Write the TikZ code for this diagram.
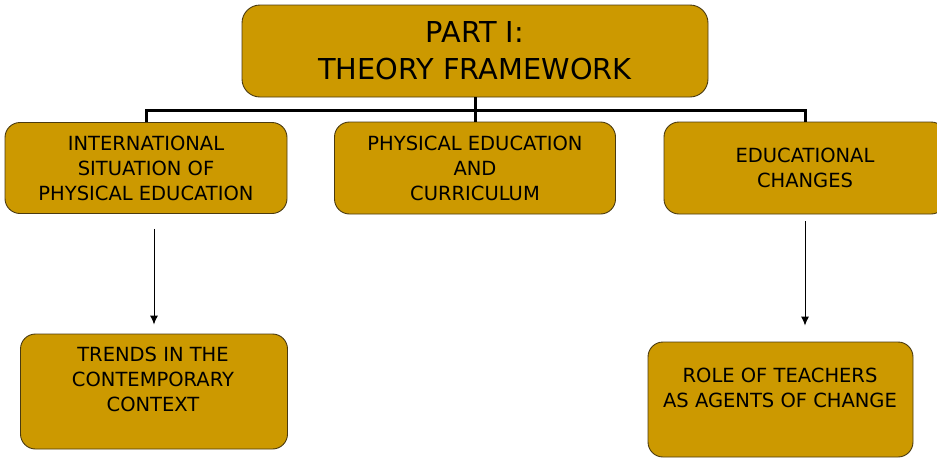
\documentclass[tikz,border=0pt]{standalone}
\usepackage{fontspec}
\setmainfont{DejaVu Sans}
\usetikzlibrary{arrows.meta}
\definecolor{boxfill}{HTML}{CC9900}
\definecolor{boxline}{HTML}{4A3A10}
\begin{document}
\begin{tikzpicture}[x=1pt,y=-1pt,
  box/.style={draw=boxline, line width=0.9pt, fill=boxfill, rounded corners=15pt, inner sep=0pt},
  small/.style={font=\fontsize{19.5}{25}\selectfont, align=center, inner sep=0pt},
  big/.style={font=\fontsize{28.8}{37}\selectfont, align=center},
  tree/.style={line width=3pt, black},
  arr/.style={line width=1pt, black, -{Latex[length=9pt,width=8pt]}}]
\useasboundingbox (0,0) rectangle (937,459);
% boxes
\node[box, big, rounded corners=18pt, minimum width=466pt, minimum height=92pt] (top) at (475,51) {PART I:\\THEORY FRAMEWORK};
\node[box, small, minimum width=282pt, minimum height=91pt] (L1) at (146,168) {INTERNATIONAL\\SITUATION OF\\PHYSICAL EDUCATION};
\node[box, small, minimum width=281pt, minimum height=92pt] (M) at (475,168) {PHYSICAL EDUCATION\\AND\\CURRICULUM};
\node[box, small, minimum width=282pt, minimum height=92pt] (R) at (805,168) {EDUCATIONAL\\CHANGES};
\node[box, minimum width=267pt, minimum height=115pt] (L2) at (154,391.5) {};
\node[small] (L2t) at (153,379.5) {TRENDS IN THE\\CONTEMPORARY\\CONTEXT};
\node[box, minimum width=265pt, minimum height=115pt] (R2) at (780.5,399.5) {};
\node[small] (R2t) at (780,387.5) {ROLE OF TEACHERS\\AS AGENTS OF CHANGE};
% tree connectors
\coordinate (bus) at (475,110);
\draw[tree] (top.south) -- (M.north);
\draw[tree] (L1.north) |- (bus) -| (R.north);
% arrows
\draw[arr] ([yshift=-15pt]L1.south -| L2.north) -- ([yshift=9pt]L2.north);
\draw[arr] ([yshift=-7pt]R.south) -- ([yshift=16pt]R.south |- R2.north);
\end{tikzpicture}
\end{document}
